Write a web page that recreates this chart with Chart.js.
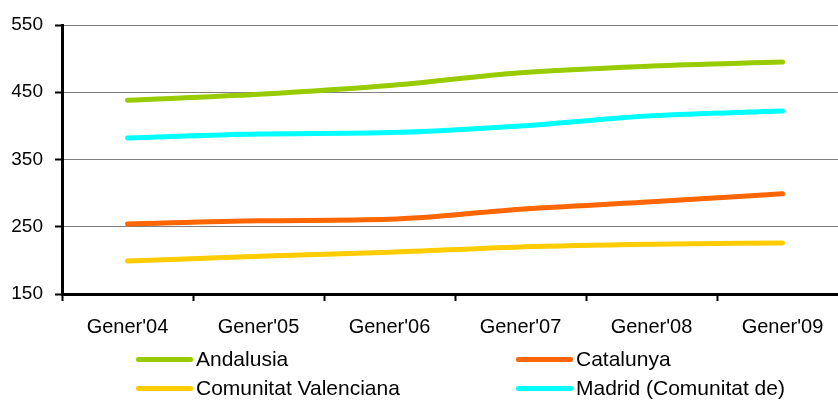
<!DOCTYPE html>
<html>
<head>
<meta charset="utf-8">
<script src="https://cdn.jsdelivr.net/npm/chart.js@4"></script>
<style>
  html, body { margin: 0; padding: 0; background: #fff; }
  body { width: 838px; height: 401px; overflow: hidden; position: relative; font-family: "Liberation Sans", Arial, sans-serif; }
  #wrap { position: absolute; left: 0; top: 0; width: 860px; height: 401px; }
  .leg { position: absolute; height: 24px; line-height: 24px; font-size: 21px; color: #000; white-space: nowrap; }
  .leg span.swatch { position: absolute; left: 0; top: 10px; width: 57px; height: 5px; border-radius: 2px; }
  .leg span.txt { position: absolute; left: 60px; top: 0; }
</style>
</head>
<body>
<div id="wrap"><canvas id="chart" width="860" height="401"></canvas></div>
<div id="legend"></div>
<script>
const labels = ["Gener'04", "Gener'05", "Gener'06", "Gener'07", "Gener'08", "Gener'09"];
const yTicks = [150, 250, 350, 450, 550];

const andalusia = [438, 447, 460, 479, 489, 495];
const catalunya = [254, 259, 261, 276, 287, 299];
const valenciana = [199, 206, 212, 220, 224, 226];
const madrid = [382, 388, 390, 400, 415, 422];

const seriesNames = ['Andalusia', 'Catalunya', 'Comunitat Valenciana', 'Madrid (Comunitat de)'];
const seriesData = [andalusia, catalunya, valenciana, madrid];
const seriesColors = ['#99CC00', '#FF6600', '#FFCC00', '#00FFFF'];

const fontFamily = '"Liberation Sans", Arial, sans-serif';

new Chart(document.getElementById('chart'), {
  type: 'line',
  data: {
    labels: labels,
    datasets: seriesNames.map((name, i) => ({
      label: name,
      data: seriesData[i],
      borderColor: seriesColors[i],
      backgroundColor: seriesColors[i],
      borderWidth: 5,
      borderCapStyle: 'round',
      pointRadius: 0,
      cubicInterpolationMode: 'monotone',
      fill: false
    }))
  },
  options: {
    responsive: false,
    animation: false,
    layout: { padding: { top: 25, right: 12, left: 0, bottom: 0 } },
    plugins: { legend: { display: false }, tooltip: { enabled: false } },
    scales: {
      x: {
        offset: true,
        grid: { offset: true, drawOnChartArea: false, tickLength: 7, tickColor: '#000', tickWidth: 2 },
        border: { color: '#000', width: 3 },
        ticks: { color: '#000', font: { family: fontFamily, size: 20 }, padding: 14, maxRotation: 0 },
        afterFit: s => { s.height = 107; }
      },
      y: {
        min: 150,
        max: 550,
        afterBuildTicks: s => { s.ticks = yTicks.map(v => ({ value: v })); },
        grid: { color: '#808080', lineWidth: 1, tickLength: 7, tickColor: '#000', tickWidth: 2 },
        border: { color: '#000', width: 3 },
        ticks: { color: '#000', font: { family: fontFamily, size: 19 }, padding: 12 },
        afterFit: s => { s.width = 62; }
      }
    }
  }
});

// legend in two columns below the chart
const legPos = [[136, 347], [516, 347], [136, 376], [516, 376]];
const legend = document.getElementById('legend');
seriesNames.forEach((name, i) => {
  const d = document.createElement('div');
  d.className = 'leg';
  d.style.left = legPos[i][0] + 'px';
  d.style.top = legPos[i][1] + 'px';
  d.innerHTML = '<span class="swatch" style="background:' + seriesColors[i] + '"></span><span class="txt">' + name + '</span>';
  legend.appendChild(d);
});
</script>
</body>
</html>
